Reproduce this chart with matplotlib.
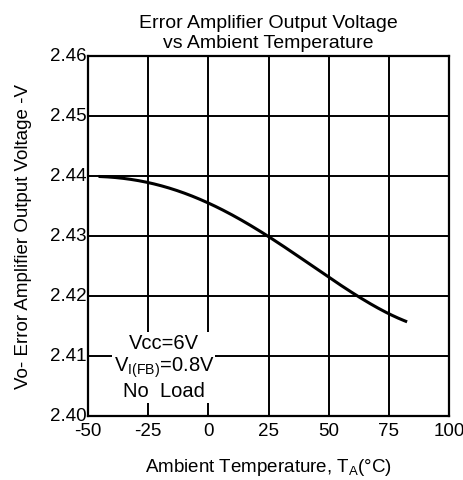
import numpy as np
import matplotlib
matplotlib.use('Agg')
import matplotlib.pyplot as plt
import matplotlib.transforms as mtrans

plt.rcParams['font.family'] = ['Liberation Sans', 'DejaVu Sans']
plt.rcParams['axes.unicode_minus'] = False

# curve
temp = [-45, -35, -25, -12, 0, 12, 25, 37, 50, 62, 75, 82]
vout = [2.4400, 2.4395, 2.4388, 2.4375, 2.4355, 2.4332, 2.4300, 2.4265, 2.4230, 2.4200, 2.4175, 2.4155]
xticks = [-50, -25, 0, 25, 50, 75, 100]
yticks = [2.40, 2.41, 2.42, 2.43, 2.44, 2.45, 2.46]

fig = plt.figure(figsize=(4.64, 4.8), dpi=100)
ax = fig.add_axes([0.1897, 0.1333, 0.778, 0.75])

# smooth the read points a bit
xs = np.linspace(temp[0], temp[-1], 200)
coef = np.polyfit(temp, vout, 4)
ax.plot(xs, np.polyval(coef, xs), color='black', lw=2.2, zorder=3)

ax.set_xlim(-50, 100)
ax.set_ylim(2.40, 2.46)
ax.set_xticks(xticks)
ax.set_yticks(yticks)
ax.set_yticklabels(['%.2f' % v for v in yticks])
ax.grid(True, color='black', lw=1.4)
ax.tick_params(length=0, labelsize=13.5, pad=1)
ax.tick_params(axis='x', pad=5)
for s in ax.spines.values():
    s.set_linewidth(1.6)

# y labels sit a touch above their grid lines
up = mtrans.ScaledTranslation(0, 2 / 100, fig.dpi_scale_trans)
for lab in ax.get_yticklabels():
    lab.set_transform(lab.get_transform() + up)

ax.set_title('Error Amplifier Output Voltage\nvs Ambient Temperature', fontsize=14, pad=6,
             linespacing=1.2)
ax.set_xlabel(r'Ambient Temperature, T$_{\mathregular{A}}$(°C)', fontsize=13.5, labelpad=12)
ax.set_ylabel('Vo- Error Amplifier Output Voltage -V', fontsize=13.5, labelpad=13)

ax.text(-18.5, 2.4081, 'Vcc=6V\n' + r'V$_{\mathregular{I(FB)}}$=0.8V' + '\nNo  Load',
        ha='center', va='center', fontsize=14.5, linespacing=1.17, zorder=4,
        bbox=dict(facecolor='white', edgecolor='none', pad=1))

fig.savefig('out.png', dpi=100)
